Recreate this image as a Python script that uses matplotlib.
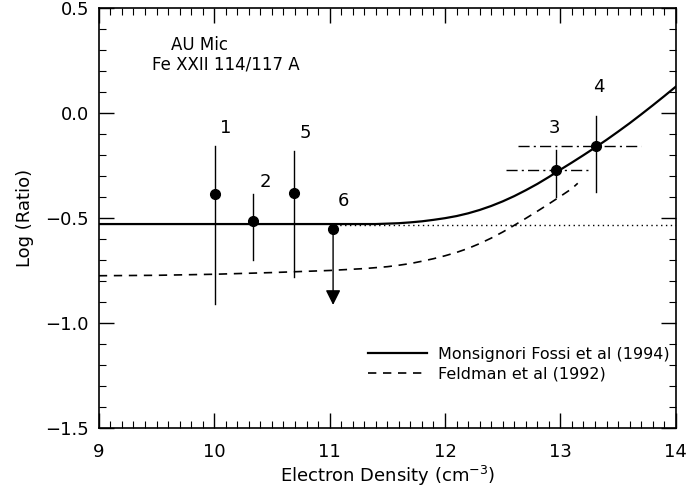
import numpy as np
import matplotlib
matplotlib.use("Agg")
import matplotlib.pyplot as plt
from matplotlib.ticker import MultipleLocator, FuncFormatter

# model curves (log ratio vs log electron density)
monsig_x = [9.0, 10.0, 11.0, 11.4, 11.5, 11.6, 11.7, 11.8, 11.9, 12.0, 12.1, 12.2, 12.3, 12.4,
            12.5, 12.6, 12.7, 12.8, 12.9, 13.0, 13.1, 13.2, 13.3, 13.4, 13.5, 13.6, 13.7,
            13.8, 13.9, 14.0]
monsig_y = [-0.529, -0.529, -0.529, -0.529, -0.527, -0.525, -0.521, -0.516, -0.509, -0.501,
            -0.491, -0.478, -0.462, -0.443, -0.421, -0.396, -0.368, -0.338, -0.305, -0.27,
            -0.236, -0.201, -0.165, -0.128, -0.089, -0.049, -0.007, 0.036, 0.08, 0.125]

feld_x = [9.0, 9.5, 10.0, 10.5, 11.0, 11.3, 11.5, 11.6, 11.7, 11.8, 11.9, 12.0, 12.1, 12.2,
          12.3, 12.4, 12.5, 12.6, 12.7, 12.8, 12.9, 13.0, 13.1, 13.15]
feld_y = [-0.775, -0.773, -0.768, -0.76, -0.75, -0.741, -0.732, -0.725, -0.717, -0.706,
          -0.694, -0.68, -0.664, -0.645, -0.622, -0.596, -0.567, -0.535, -0.502, -0.468,
          -0.433, -0.397, -0.36, -0.335]

low_limit_x = [11.0, 14.0]
low_limit_y = [-0.533, -0.533]

# observations
obs_id = ["1", "2", "5", "6", "3", "4"]
obs_x = [10.01, 10.34, 10.69, 11.03, 12.96, 13.31]
obs_y = [-0.387, -0.514, -0.383, -0.554, -0.271, -0.157]
obs_ylo = [-0.91, -0.70, -0.78, -0.914, -0.40, -0.378]
obs_yhi = [-0.157, -0.387, -0.18, -0.554, -0.177, -0.014]
obs_xlo = [None, None, None, None, 12.53, 12.63]
obs_xhi = [None, None, None, None, 13.25, 13.70]
label_pos = [(10.10, -0.07), (10.44, -0.33), (10.79, -0.095), (11.12, -0.42), (12.95, -0.073), (13.33, 0.125)]

plt.rcParams["font.family"] = ["DejaVu Sans"]

fig = plt.figure(figsize=(6.96, 4.92), dpi=100)
ax = fig.add_axes([0.142, 0.130, 0.829, 0.854])

ax.plot(monsig_x, monsig_y, color="black", lw=1.6, label="Monsignori Fossi et al (1994)")
ax.plot(feld_x, feld_y, color="black", lw=1.2, ls=(0, (5, 4)), label="Feldman et al (1992)")
ax.plot(low_limit_x, low_limit_y, color="black", lw=1.0, ls=(0, (1, 2.5)))

for i in range(len(obs_x)):
    if obs_id[i] == "6":
        # upper limit: arrow pointing down
        ax.annotate("", xy=(obs_x[i], obs_ylo[i]), xytext=(obs_x[i], obs_y[i]),
                    arrowprops=dict(arrowstyle="-|>,head_width=0.45,head_length=0.9",
                                    color="black", lw=1.0, shrinkA=0, shrinkB=0))
    else:
        ax.plot([obs_x[i], obs_x[i]], [obs_ylo[i], obs_yhi[i]], color="black", lw=1.0)
    if obs_xlo[i] is not None:
        ax.plot([obs_xlo[i], obs_xhi[i]], [obs_y[i], obs_y[i]], color="black", lw=1.0,
                ls=(0, (8, 3, 1.5, 3)))
    ax.plot(obs_x[i], obs_y[i], "o", color="black", ms=7)
    ax.text(label_pos[i][0], label_pos[i][1], obs_id[i], fontsize=13, ha="center", va="center")

ax.text(9.87, 0.324, "AU Mic", fontsize=12, ha="center", va="center")
ax.text(9.46, 0.229, "Fe XXII 114/117 A", fontsize=12, ha="left", va="center")

ax.set_xlim(9, 14)
ax.set_ylim(-1.5, 0.5)
ax.xaxis.set_major_locator(MultipleLocator(1))
ax.xaxis.set_minor_locator(MultipleLocator(0.1))
ax.yaxis.set_major_locator(MultipleLocator(0.5))
ax.yaxis.set_minor_locator(MultipleLocator(0.1))
ax.yaxis.set_major_formatter(FuncFormatter(lambda v, p: f"{v:.1f}".replace("-", "\u2212")))
ax.tick_params(which="both", direction="in", top=True, right=True, labelsize=13)
ax.tick_params(which="major", length=11, width=1.0)
ax.tick_params(which="minor", length=5, width=0.8)
ax.tick_params(axis="x", which="major", pad=11)
ax.tick_params(axis="y", which="major", pad=7)
for s in ax.spines.values():
    s.set_linewidth(1.2)

ax.set_xlabel("Electron Density (cm$^{-3}$)", fontsize=13, labelpad=2)
ax.set_ylabel("Log (Ratio)", fontsize=13, labelpad=8)

ax.legend(loc="upper left", bbox_to_anchor=(11.26, -1.075), bbox_transform=ax.transData,
          frameon=False, fontsize=11.5, handlelength=3.7, handletextpad=0.7,
          labelspacing=0.3, borderpad=0.0)

fig.savefig("out.png", dpi=100)
